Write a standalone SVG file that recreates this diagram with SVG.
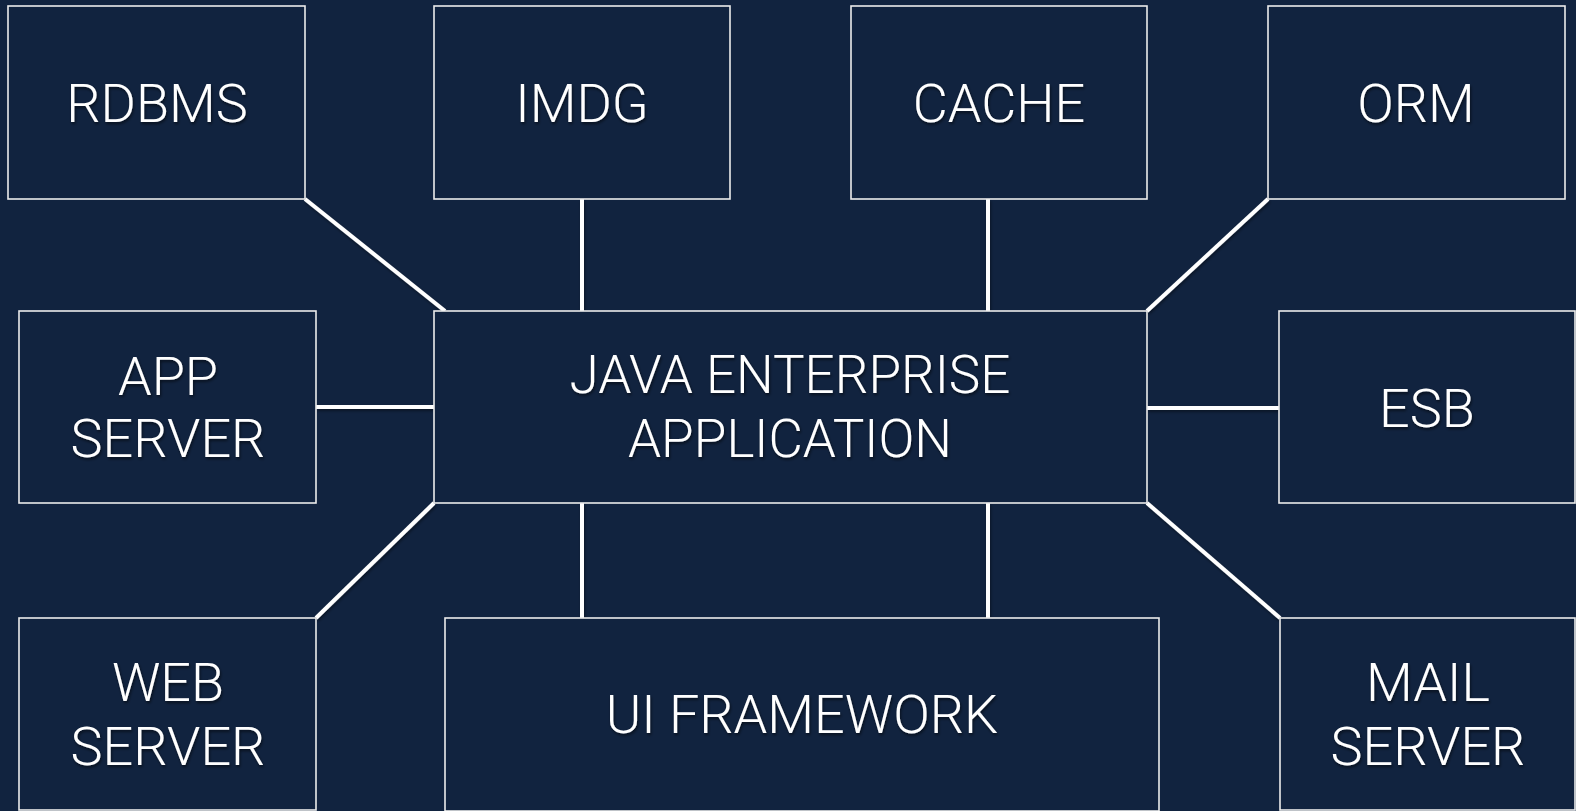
<svg xmlns="http://www.w3.org/2000/svg" width="1576" height="811" viewBox="0 0 1576 811">
<defs>
<filter id="sh" x="-10%" y="-20%" width="120%" height="150%">
<feDropShadow dx="1" dy="2" stdDeviation="1.5" flood-color="#000" flood-opacity="0.55"/>
</filter>
<filter id="lsh" x="-10%" y="-10%" width="120%" height="120%">
<feDropShadow dx="1" dy="2" stdDeviation="1.5" flood-color="#000" flood-opacity="0.4"/>
</filter>
</defs>
<style>
.box{fill:#11233f;stroke:#ececec;stroke-width:1.6}
.lbl{fill:#ffffff;font-family:Roboto,"Liberation Sans",sans-serif;font-weight:300;font-size:54px;text-anchor:middle;filter:url(#sh)}
.big{font-size:53px}
.con{stroke:#ffffff;stroke-width:4;fill:none;stroke-linecap:butt}
</style>
<rect x="0" y="0" width="1576" height="811" fill="#11233f"/>
<g id="connectors" filter="url(#lsh)">
<line class="con" x1="305" y1="199" x2="445" y2="311"/>
<line class="con" x1="582" y1="199" x2="582" y2="311"/>
<line class="con" x1="988" y1="199" x2="988" y2="311"/>
<line class="con" x1="1268" y1="199" x2="1147" y2="311"/>
<line class="con" x1="316" y1="407" x2="434" y2="407"/>
<line class="con" x1="1147" y1="408" x2="1279" y2="408"/>
<line class="con" x1="316" y1="618" x2="434" y2="503"/>
<line class="con" x1="582" y1="503" x2="582" y2="618"/>
<line class="con" x1="988" y1="503" x2="988" y2="618"/>
<line class="con" x1="1147" y1="503" x2="1280" y2="618"/>
</g>
<g id="rdbms"><rect class="box" x="8" y="6" width="297" height="193"/><text class="lbl" x="157" y="122">RDBMS</text></g>
<g id="imdg"><rect class="box" x="434" y="6" width="296" height="193"/><text class="lbl" x="582" y="122">IMDG</text></g>
<g id="cache"><rect class="box" x="851" y="6" width="296" height="193"/><text class="lbl" x="999" y="122">CACHE</text></g>
<g id="orm"><rect class="box" x="1268" y="6" width="297" height="193"/><text class="lbl" x="1416" y="122">ORM</text></g>
<g id="app-server"><rect class="box" x="19" y="311" width="297" height="192"/><text class="lbl" x="168" y="395">APP</text><text class="lbl" x="168" y="457">SERVER</text></g>
<g id="java-enterprise-application"><rect class="box" x="434" y="311" width="713" height="192"/><text class="lbl big" x="790" y="393">JAVA ENTERPRISE</text><text class="lbl big" x="790" y="457">APPLICATION</text></g>
<g id="esb"><rect class="box" x="1279" y="311" width="296" height="192"/><text class="lbl" x="1427" y="427">ESB</text></g>
<g id="web-server"><rect class="box" x="19" y="618" width="297" height="192"/><text class="lbl" x="168" y="701">WEB</text><text class="lbl" x="168" y="765">SERVER</text></g>
<g id="ui-framework"><rect class="box" x="445" y="618" width="714" height="193"/><text class="lbl" x="802" y="733">UI FRAMEWORK</text></g>
<g id="mail-server"><rect class="box" x="1280" y="618" width="295" height="192"/><text class="lbl" x="1428" y="701">MAIL</text><text class="lbl" x="1428" y="765">SERVER</text></g>
</svg>
